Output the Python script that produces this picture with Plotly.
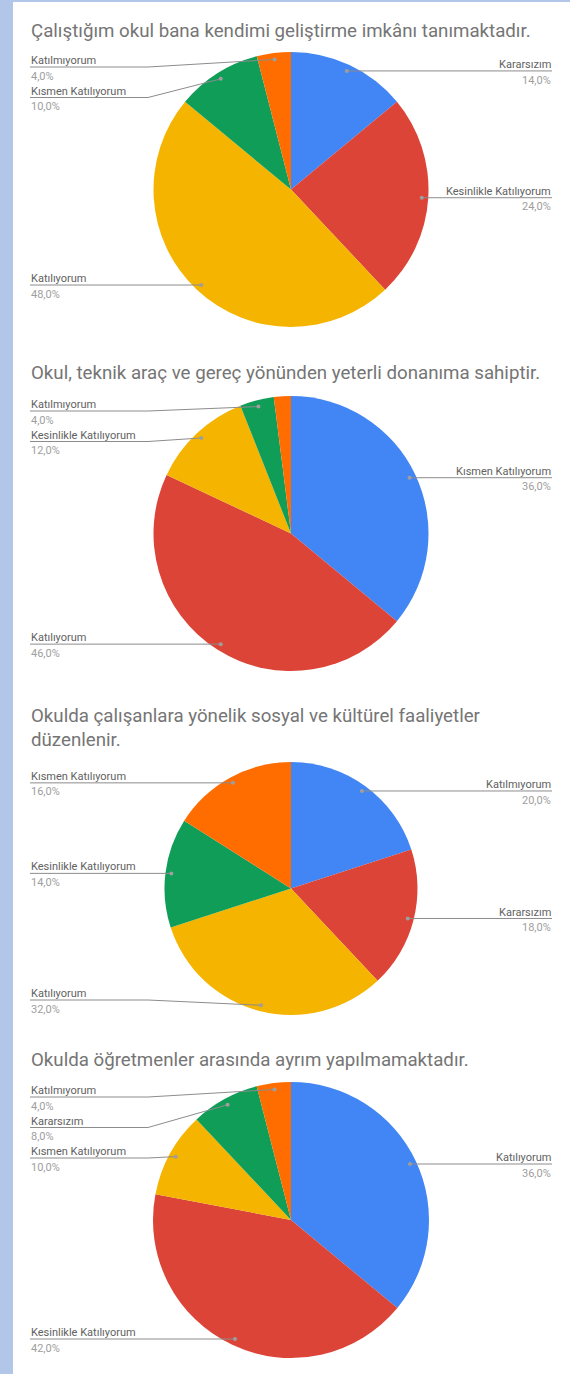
import math
import plotly.graph_objects as go

# ---------------- data ----------------
titles = [
    "Çalıştığım okul bana kendimi geliştirme imkânı tanımaktadır.",
    "Okul, teknik araç ve gereç yönünden yeterli donanıma sahiptir.",
    "Okulda çalışanlara yönelik sosyal ve kültürel faaliyetler<br>düzenlenir.",
    "Okulda öğretmenler arasında ayrım yapılmamaktadır.",
]
labels1 = ["Kararsızım", "Kesinlikle Katılıyorum", "Katılıyorum", "Kısmen Katılıyorum", "Katılmıyorum"]
values1 = [14, 24, 48, 10, 4]
labels2 = ["Kısmen Katılıyorum", "Katılıyorum", "Kesinlikle Katılıyorum", "Katılmıyorum", "Kararsızım"]
values2 = [36, 46, 12, 4, 2]
labels3 = ["Katılmıyorum", "Kararsızım", "Katılıyorum", "Kesinlikle Katılıyorum", "Kısmen Katılıyorum"]
values3 = [20, 18, 32, 14, 16]
labels4 = ["Katılıyorum", "Kesinlikle Katılıyorum", "Kısmen Katılıyorum", "Kararsızım", "Katılmıyorum"]
values4 = [36, 42, 10, 8, 4]
slice_colors = ["#4285F4", "#DB4437", "#F4B400", "#0F9D58", "#FF6D00"]

charts = [(labels1, values1), (labels2, values2), (labels3, values3), (labels4, values4)]

# ---------------- layout constants (pixels) ----------------
W, H = 570, 1374
CX = 291
centers_y = [189.5, 533.5, 888.5, 1220]
radii = [137.5, 137.5, 126.5, 138]
title_y = [30.7, 373, 728, 1060]
TITLE_X = 29
LEFT_X, RIGHT_X = 30, 552
LEFT_ELBOW, RIGHT_ELBOW = 148, 434
DOT_F = 0.953
GAP = 30.5
EDGE = 15
LINE_COL = "#8c8c8c"
FONT = "Roboto, Arial, sans-serif"

fig = go.Figure()
shapes = []
annotations = []

# white panel
shapes.append(dict(type="rect", xref="x", yref="y", x0=13, x1=W, y0=2, y1=H,
                   fillcolor="white", line=dict(width=0), layer="below"))

def fmt(v):
    return f"{v:.1f}".replace(".", ",") + "%"

for ci, (labs, vals) in enumerate(charts):
    cy, r = centers_y[ci], radii[ci]
    fig.add_trace(go.Pie(
        labels=labs, values=vals, sort=False, direction="clockwise", rotation=0,
        marker=dict(colors=slice_colors, line=dict(width=0)),
        textinfo="none", hoverinfo="skip", showlegend=False,
        domain=dict(x=[(CX - r) / W, (CX + r) / W], y=[1 - (cy + r) / H, 1 - (cy - r) / H]),
    ))
    annotations.append(dict(xref="x", yref="y", x=TITLE_X, y=title_y[ci], text=titles[ci],
                            xanchor="left", yanchor="middle", align="left", showarrow=False,
                            font=dict(family=FONT, size=18.7, color="#757575")))
    total = sum(vals)
    cum = 0
    items = []
    for lab, v in zip(labs, vals):
        mid = (cum + v / 2) / total * 2 * math.pi
        cum += v
        if v / total < 0.03:
            continue
        dx = math.sin(mid) * r * DOT_F
        dy = -math.cos(mid) * r * DOT_F
        items.append(dict(lab=lab, v=v, x=CX + dx, y=cy + dy, side="right" if mid < math.pi else "left"))
    top_b, bot_b = cy - r + EDGE, cy + r - EDGE
    for side in ("left", "right"):
        grp = sorted([it for it in items if it["side"] == side], key=lambda t: t["y"])
        ys = [it["y"] for it in grp]
        prev = -1e9
        for i in range(len(ys)):
            ys[i] = max(ys[i], prev + GAP, top_b)
            prev = ys[i]
        nxt = 1e9
        for i in range(len(ys) - 1, -1, -1):
            ys[i] = min(ys[i], nxt - GAP, bot_b)
            nxt = ys[i]
        for it, ly in zip(grp, ys):
            x0, y0 = it["x"], it["y"]
            if side == "left":
                endx, elb = LEFT_X, LEFT_ELBOW
                pts = [(x0, y0), (elb, ly), (endx, ly)] if x0 > elb else [(x0, y0), (endx, ly)]
                xa, tx = "left", endx - 1
            else:
                endx, elb = RIGHT_X, RIGHT_ELBOW
                pts = [(x0, y0), (elb, ly), (endx, ly)] if x0 < elb else [(x0, y0), (endx, ly)]
                xa, tx = "right", endx + 1
            path = "M " + " L ".join(f"{px:.2f},{py:.2f}" for px, py in pts)
            shapes.append(dict(type="path", xref="x", yref="y", path=path,
                               line=dict(color=LINE_COL, width=1), layer="above"))
            shapes.append(dict(type="circle", xref="x", yref="y", x0=x0 - 2, x1=x0 + 2,
                               y0=y0 - 2, y1=y0 + 2, fillcolor="#9e9e9e",
                               line=dict(width=0), layer="above"))
            annotations.append(dict(xref="x", yref="y", x=tx, y=ly - 6.4, text=it["lab"],
                                    xanchor=xa, yanchor="middle", showarrow=False,
                                    font=dict(family=FONT, size=11, color="#616161")))
            annotations.append(dict(xref="x", yref="y", x=tx, y=ly + 9.1, text=fmt(it["v"]),
                                    xanchor=xa, yanchor="middle", showarrow=False,
                                    font=dict(family=FONT, size=11, color="#9e9e9e")))

fig.update_layout(
    width=W, height=H, margin=dict(l=0, r=0, t=0, b=0),
    paper_bgcolor="#b1c6e9", plot_bgcolor="rgba(0,0,0,0)",
    xaxis=dict(range=[0, W], visible=False, domain=[0, 1], fixedrange=True),
    yaxis=dict(range=[H, 0], visible=False, domain=[0, 1], fixedrange=True),
    shapes=shapes, annotations=annotations,
    font=dict(family=FONT),
)

fig.write_html("out.html", config={"displayModeBar": False},
               post_script="document.body.style.margin='0px';document.body.style.overflow='hidden';")
